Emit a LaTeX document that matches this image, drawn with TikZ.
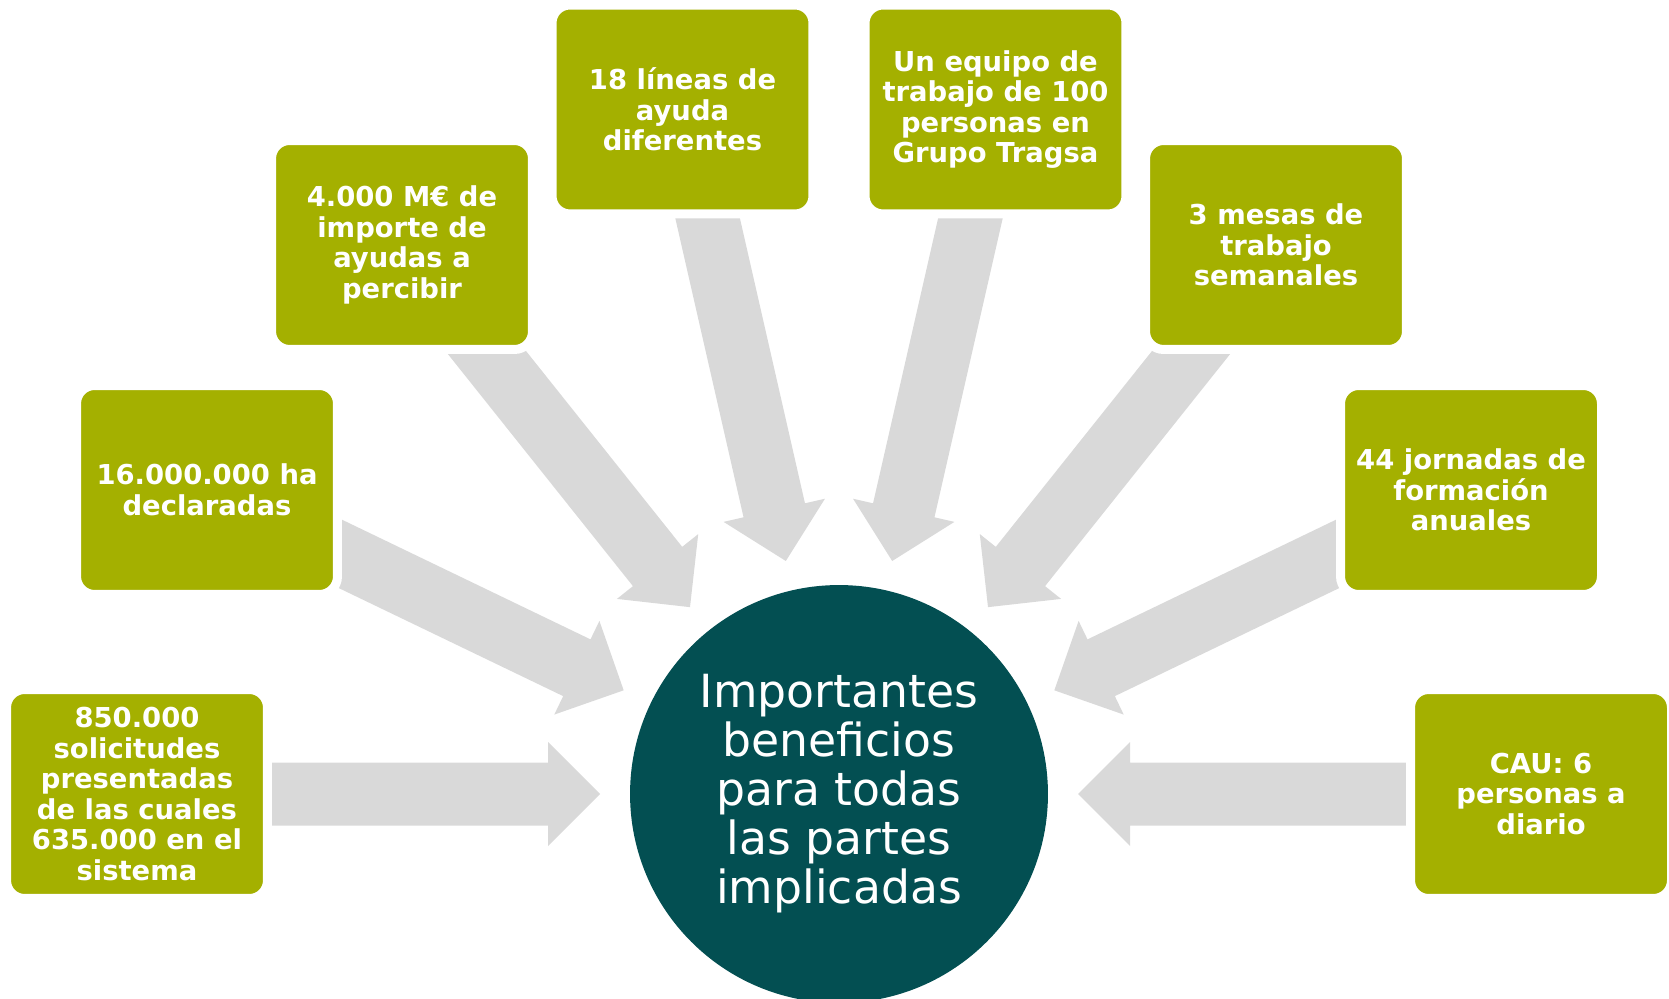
\documentclass[tikz,border=0pt]{standalone}
\usepackage{fontspec}
\setmainfont{DejaVu Sans}
\usetikzlibrary{positioning}
\definecolor{olivebox}{RGB}{164,176,0}
\definecolor{tealcore}{RGB}{3,79,82}
\definecolor{arrowgray}{RGB}{217,217,217}

\begin{document}
\begin{tikzpicture}[x=0.02cm,y=-0.02cm,
  fact/.style={fill=olivebox,draw=white,line width=0.18cm,rounded corners=0.36cm,minimum width=5.22cm,minimum height=4.18cm,inner sep=0pt,text=white,align=center,font=\bfseries\fontsize{15.6}{17.4}\selectfont},
  core/.style={circle,fill=tealcore,minimum size=8.36cm,inner sep=0pt,text=white,align=center,font=\fontsize{26}{27.9}\selectfont}]
  \useasboundingbox (0,0) rectangle (1669,999);
  \node[core] (core) at (839,794) {Importantes\\beneficios\\para todas\\las partes\\implicadas};
  % block arrows, all pointing at the centre
  \foreach \k in {0,...,7}
    \fill[arrowgray,shift={(core.center)},rotate=\k*180/7]
      (239,0) -- (291,52) -- (291,31.5) -- (630,31.5) -- (630,-31.5) -- (291,-31.5) -- (291,-52) -- cycle;
  \node[fact] (sol) at (137,794) {850.000\\solicitudes\\presentadas\\de las cuales\\635.000 en el\\sistema};
  \node[fact] (ha) at (207,490) {16.000.000 ha\\declaradas};
  \node[fact] (imp) at (402,245) {4.000 M€ de\\importe de\\ayudas a\\percibir};
  \node[fact] (lin) at (682.5,109.5) {18 líneas de\\ayuda\\diferentes};
  \node[fact] (equ) at (995.5,109.5) {Un equipo de\\trabajo de 100\\personas en\\Grupo Tragsa};
  \node[fact] (mes) at (1276,245) {3 mesas de\\trabajo\\semanales};
  \node[fact] (jor) at (1471,490) {44 jornadas de\\formación\\anuales};
  \node[fact] (cau) at (1541,794) {CAU: 6\\personas a\\diario};
\end{tikzpicture}
\end{document}
